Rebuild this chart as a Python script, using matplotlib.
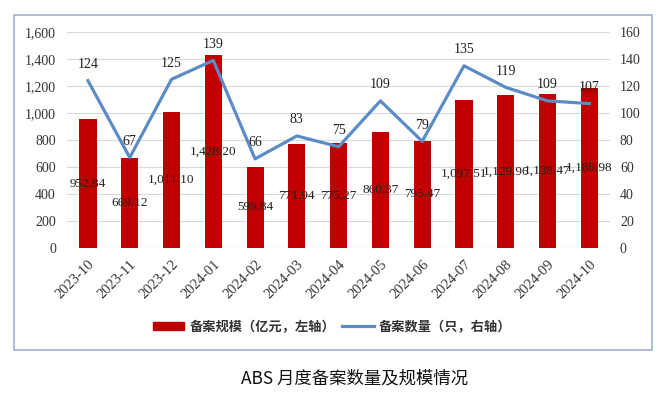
import numpy as np
import matplotlib.pyplot as plt
from matplotlib.patches import Rectangle

plt.rcParams['font.family'] = ['Liberation Serif', 'Noto Sans CJK SC', 'DejaVu Sans']

# data
months = ['2023-10', '2023-11', '2023-12', '2024-01', '2024-02', '2024-03', '2024-04',
          '2024-05', '2024-06', '2024-07', '2024-08', '2024-09', '2024-10']
scale = [952.84, 669.12, 1011.10, 1428.20, 599.84, 771.94, 775.27,
         860.37, 795.47, 1097.51, 1129.96, 1138.47, 1186.98]
count = [124, 67, 125, 139, 66, 83, 75, 109, 79, 135, 119, 109, 107]

bar_color = '#C00000'
line_color = '#5B8CC6'
text_color = '#333333'

fig = plt.figure(figsize=(6.64, 3.96), dpi=100)
ax = fig.add_axes([0.101, 0.374, 0.818, 0.545])
ax2 = ax.twinx()

x = np.arange(len(months))
ax.bar(x, scale, width=0.41, color=bar_color, zorder=2)
ax2.plot(x, count, color=line_color, lw=2.3, zorder=3)

ax.set_xlim(-0.5, len(months) - 0.5)
ax.set_ylim(0, 1600)
ax2.set_ylim(0, 160)
ax.set_yticks(np.arange(0, 1601, 200))
ax2.set_yticks(np.arange(0, 161, 20))
ax.set_yticklabels([f'{v:,}' for v in range(0, 1601, 200)])
ax.yaxis.grid(True, color='#D9D9D9', lw=0.8, zorder=0)
ax.set_axisbelow(True)

ax.set_xticks(x)
ax.set_xticklabels(months, rotation=45, ha='right', rotation_mode='anchor')

for a in (ax, ax2):
    for s in a.spines.values():
        s.set_visible(False)
    a.tick_params(length=0, labelsize=10, colors=text_color)
ax.tick_params(axis='y', pad=8)
ax2.tick_params(axis='y', pad=7)
ax.tick_params(axis='x', pad=7, labelsize=10.5)
ax.axhline(0, color='#D9D9D9', lw=0.8, zorder=1)

# bar labels (centered)
for xi, v in zip(x, scale):
    ax.text(xi, v / 2, f'{v:,.2f}', ha='center', va='center', fontsize=9.5,
            color='#222222', zorder=4)

# line labels
for xi, c in zip(x, count):
    ax2.annotate(str(c), (xi, c), xytext=(0, 7), textcoords='offset points',
                 ha='center', va='bottom', fontsize=10, color='#222222', zorder=4)

# legend
h1 = Rectangle((0, 0), 1, 1, color=bar_color)
h2 = plt.Line2D([0], [0], color=line_color, lw=2.3)
fig.legend([h1, h2], ['备案规模（亿元，左轴）', '备案数量（只，右轴）'],
           loc='center', bbox_to_anchor=(0.50, 0.175), ncol=2, frameon=False,
           prop={'family': ['Noto Sans CJK SC'], 'size': 9.5, 'weight': 'bold'},
           handlelength=2.4, handleheight=0.55, columnspacing=0.5, handletextpad=0.4,
           labelcolor='#333333')

# outer border
fig.patches.append(Rectangle((14 / 664, 1 - 350 / 396), (652 - 14) / 664, (350 - 15) / 396,
                             transform=fig.transFigure, fill=False,
                             edgecolor='#9DB3D1', lw=1.2))

fig.text(355 / 664, 1 - 378 / 396, 'ABS 月度备案数量及规模情况', ha='center', va='center',
         fontsize=12.5, color='#111111', family=['Noto Sans CJK SC'])

fig.savefig('out.png', dpi=100)
